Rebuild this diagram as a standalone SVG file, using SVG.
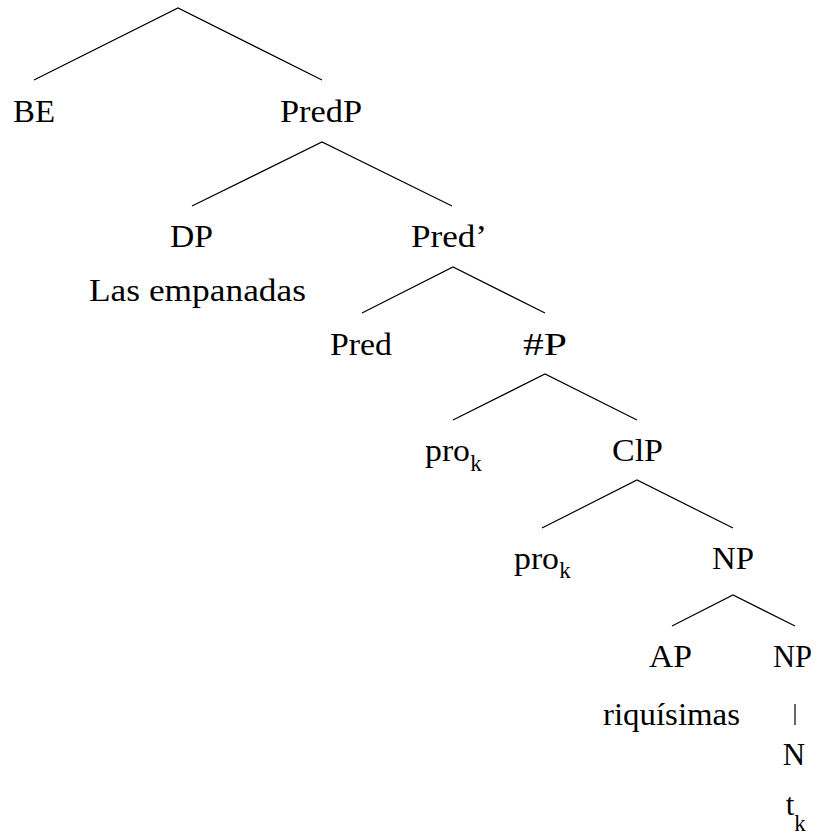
<svg xmlns="http://www.w3.org/2000/svg" width="819" height="837" viewBox="0 0 819 837">
<style>
text{font-family:"Liberation Serif","Times New Roman",Tinos,serif;font-size:31px;fill:#000;font-weight:400}
.sub{font-size:23px}
.e{stroke:#000;stroke-width:1.2;fill:none}
</style>
<rect width="819" height="837" fill="#fff"/>
<g id="connectors">
<path class="e" d="M34,80 L178,8 L322,80"/>
<path class="e" d="M192,206 L322,142 L452,206"/>
<path class="e" d="M362,313 L453,267 L545,313"/>
<path class="e" d="M453,420 L545,374 L637,420"/>
<path class="e" d="M542,528 L637,480 L733,528"/>
<path class="e" d="M672,626 L733,595 L795,626"/>
<path class="e" d="M795,704 L795,725"/>
</g>
<g id="BE"><text x="13" y="122" textLength="42" lengthAdjust="spacingAndGlyphs">BE</text></g>
<g id="PredP"><text x="280" y="122" textLength="82" lengthAdjust="spacingAndGlyphs">PredP</text></g>
<g id="DP"><text x="170" y="247" textLength="43" lengthAdjust="spacingAndGlyphs">DP</text></g>
<g id="DP-word"><text x="89" y="301" textLength="217" lengthAdjust="spacingAndGlyphs">Las empanadas</text></g>
<g id="PredBar"><text x="411" y="247" textLength="76" lengthAdjust="spacingAndGlyphs">Pred’</text></g>
<g id="Pred"><text x="330" y="355" textLength="62" lengthAdjust="spacingAndGlyphs">Pred</text></g>
<g id="NumP"><text x="523" y="355" textLength="44" lengthAdjust="spacingAndGlyphs">#P</text></g>
<g id="pro1"><text x="425" y="461" textLength="45" lengthAdjust="spacingAndGlyphs">pro</text><text class="sub" x="476" y="471" text-anchor="middle">k</text></g>
<g id="ClP"><text x="612" y="461" textLength="51" lengthAdjust="spacingAndGlyphs">ClP</text></g>
<g id="pro2"><text x="514" y="569" textLength="45" lengthAdjust="spacingAndGlyphs">pro</text><text class="sub" x="565" y="578" text-anchor="middle">k</text></g>
<g id="NP1"><text x="712" y="569" textLength="42" lengthAdjust="spacingAndGlyphs">NP</text></g>
<g id="AP"><text x="649" y="667" textLength="43" lengthAdjust="spacingAndGlyphs">AP</text></g>
<g id="AP-word"><text x="603" y="725" textLength="137" lengthAdjust="spacingAndGlyphs">riquísimas</text></g>
<g id="NP2"><text x="773" y="667" textLength="39" lengthAdjust="spacingAndGlyphs">NP</text></g>
<g id="N"><text x="794" y="765" text-anchor="middle">N</text></g>
<g id="tk"><text x="790" y="815" text-anchor="middle">t</text><text class="sub" x="800" y="831" text-anchor="middle">k</text></g>
</svg>
